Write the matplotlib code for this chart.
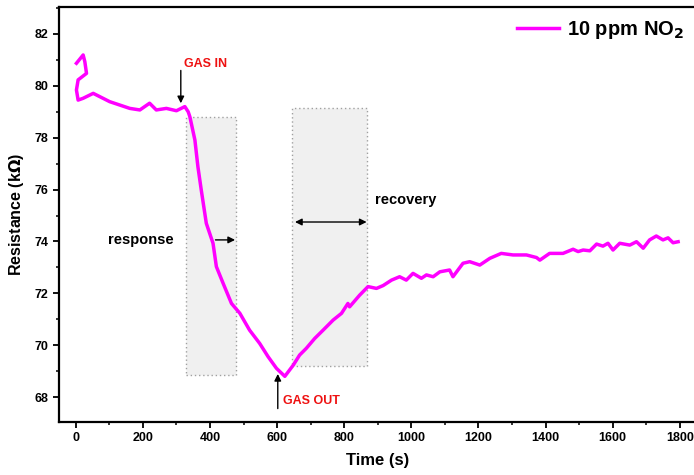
import matplotlib
matplotlib.use("Agg")
import matplotlib.pyplot as plt
from matplotlib.patches import Rectangle
from matplotlib.ticker import MultipleLocator

plt.rcParams['font.family'] = ['Liberation Sans', 'DejaVu Sans']
plt.rcParams['font.weight'] = 'bold'

time_s = [2, 22, 27, 32, 7, 2, 7, 22, 52, 72, 101, 131, 161, 191, 220, 240, 270, 300, 325, 335,
          340, 355, 364, 374, 389, 409, 419, 439, 464, 489, 518, 548, 573, 598, 623,
          648, 667, 687, 712, 737, 767, 792, 811, 816, 846, 871, 896, 916, 941, 965, 985,
          1005, 1030, 1045, 1065, 1085, 1114, 1124, 1154, 1174, 1204, 1234, 1268, 1303, 1343,
          1373, 1383, 1412, 1452, 1482, 1497, 1512, 1532, 1552, 1571, 1586, 1601, 1621, 1651,
          1671, 1691, 1710, 1730, 1750, 1765, 1780, 1795]
resistance = [80.87, 81.19, 80.93, 80.48, 80.23, 79.84, 79.45, 79.52, 79.71, 79.58, 79.39, 79.26,
              79.13, 79.07, 79.33, 79.07, 79.13, 79.04, 79.20, 79.0,
              78.81, 77.91, 76.88, 75.98, 74.70, 73.93, 73.03, 72.39, 71.61, 71.23, 70.58, 70.07,
              69.56, 69.11, 68.80,
              69.23, 69.62, 69.88, 70.26, 70.58, 70.97, 71.23, 71.61, 71.48, 71.93, 72.26, 72.19,
              72.30, 72.51, 72.64, 72.51,
              72.77, 72.58, 72.71, 72.64, 72.83, 72.90, 72.64, 73.16, 73.22, 73.09, 73.35, 73.54,
              73.48, 73.48,
              73.38, 73.28, 73.54, 73.54, 73.70, 73.61, 73.67, 73.64, 73.90, 73.82, 73.93, 73.67,
              73.93, 73.86,
              73.99, 73.74, 74.06, 74.21, 74.06, 74.14, 73.95, 73.99]

response_box = (328, 477, 68.85, 78.8)
recovery_box = (644, 867, 69.2, 79.15)

fig = plt.figure(figsize=(6.94, 4.75), dpi=100)
ax = fig.add_axes([0.085, 0.1116, 0.9187, 0.8737])

for (x0, x1, y0, y1) in (response_box, recovery_box):
    ax.add_patch(Rectangle((x0, y0), x1 - x0, y1 - y0, facecolor='#f0f0f0',
                           edgecolor='#a0a0a0', linestyle=(0, (1, 2)), linewidth=1.0, zorder=1))

ax.plot(time_s, resistance, color='#ff00ff', linewidth=2.5, label='10 ppm NO$_2$', zorder=3)

# annotations
ax.annotate('', xy=(313, 79.22), xytext=(313, 80.7),
            arrowprops=dict(arrowstyle='-|>', color='black', lw=1.0, mutation_scale=10), zorder=4)
ax.text(322, 80.85, 'GAS IN', color='#ee1111', fontsize=9, fontweight='bold', va='center', ha='left')

ax.annotate('', xy=(602, 69.0), xytext=(602, 67.45),
            arrowprops=dict(arrowstyle='-|>', color='black', lw=1.0, mutation_scale=10), zorder=4)
ax.text(617, 67.85, 'GAS OUT', color='#ee1111', fontsize=9, fontweight='bold', va='center', ha='left')

ax.annotate('', xy=(483, 74.06), xytext=(408, 74.06),
            arrowprops=dict(arrowstyle='-|>', color='black', lw=1.0, mutation_scale=10), zorder=4)
ax.text(95, 74.06, 'response', color='black', fontsize=10.5, fontweight='bold', va='center', ha='left')

ax.annotate('', xy=(875, 74.75), xytext=(645, 74.75),
            arrowprops=dict(arrowstyle='<|-|>', color='black', lw=1.0, mutation_scale=10), zorder=4)
ax.text(891, 75.6, 'recovery', color='black', fontsize=10.5, fontweight='bold', va='center', ha='left')

ax.set_xlim(-50, 1850)
ax.set_ylim(67.04, 83.04)
ax.xaxis.set_major_locator(MultipleLocator(200))
ax.xaxis.set_minor_locator(MultipleLocator(100))
ax.yaxis.set_major_locator(MultipleLocator(2))
ax.yaxis.set_minor_locator(MultipleLocator(1))
ax.tick_params(which='major', direction='out', length=4, width=1.3, labelsize=9)
ax.tick_params(which='minor', direction='out', length=2.5, width=1.1)
for lab in ax.get_xticklabels() + ax.get_yticklabels():
    lab.set_fontweight('bold')
for s in ('left', 'bottom', 'top'):
    ax.spines[s].set_linewidth(1.6)
ax.spines['right'].set_visible(False)

ax.set_xlabel('Time (s)', fontsize=12, fontweight='bold', labelpad=6)
ax.set_ylabel('Resistance (k$\\Omega$)', fontsize=11.5, fontweight='bold', labelpad=6)

leg = ax.legend(loc='upper right', frameon=False, fontsize=14.5, handlelength=2.1,
                handletextpad=0.4, borderaxespad=0.2, bbox_to_anchor=(1.0, 1.0))
for t in leg.get_texts():
    t.set_fontweight('bold')

fig.savefig('out.png', dpi=100)
